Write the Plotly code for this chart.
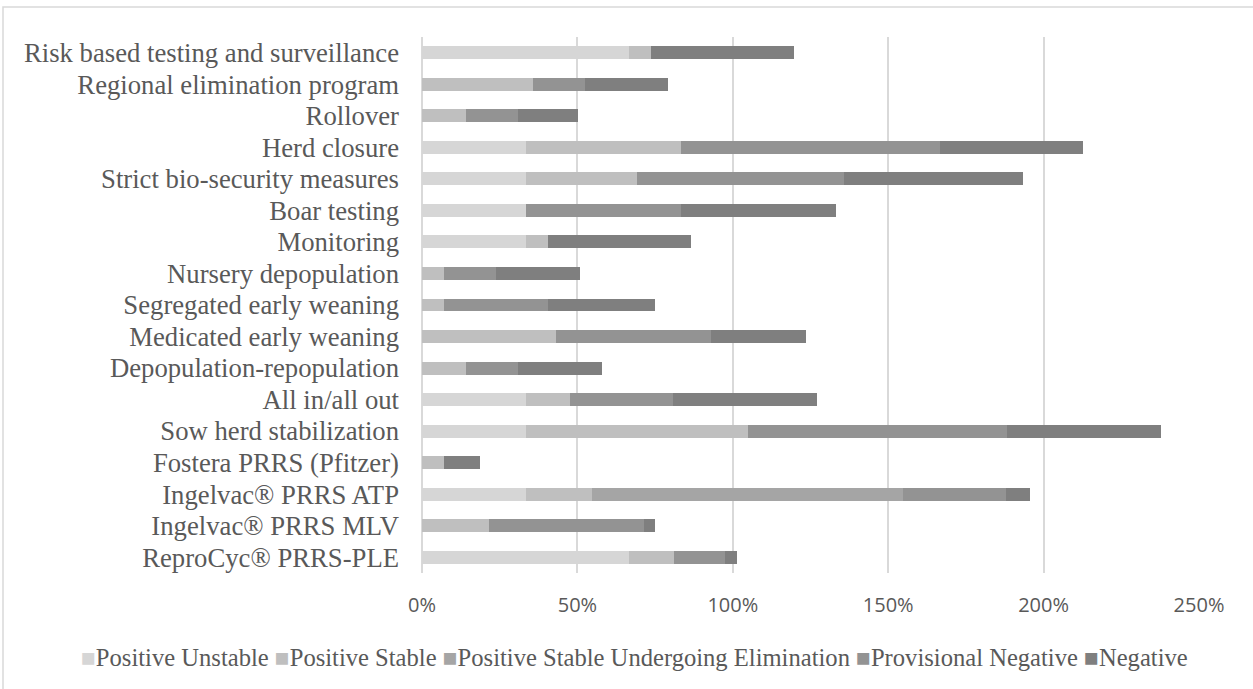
import plotly.graph_objects as go

# PRRS control strategies and herd status shares (%)
strategies = [
    "Risk based testing and surveillance",
    "Regional elimination program",
    "Rollover",
    "Herd closure",
    "Strict bio-security measures",
    "Boar testing",
    "Monitoring",
    "Nursery depopulation",
    "Segregated early weaning",
    "Medicated early weaning",
    "Depopulation-repopulation",
    "All in/all out",
    "Sow herd stabilization",
    "Fostera PRRS (Pfitzer)",
    "Ingelvac® PRRS ATP",
    "Ingelvac® PRRS MLV",
    "ReproCyc® PRRS-PLE",
]

positive_unstable = [66.7, 0, 0, 33.3, 33.3, 33.3, 33.3, 0, 0, 0, 0, 33.3, 33.3, 0, 33.3, 0, 66.7]
positive_stable = [7.1, 35.7, 14.3, 50.0, 35.8, 0, 7.2, 7.2, 7.2, 43.0, 14.3, 14.3, 71.6, 7.2, 21.4, 21.4, 14.4]
positive_stable_elim = [0, 0, 0, 0, 0, 0, 0, 0, 0, 0, 0, 0, 0, 0, 100.0, 0, 0]
provisional_negative = [0, 16.6, 16.7, 83.3, 66.6, 50.0, 0, 16.6, 33.3, 49.9, 16.7, 33.3, 83.2, 0, 33.3, 50.0, 16.5]
negative = [46.0, 27.0, 19.2, 46.0, 57.6, 49.8, 46.1, 26.9, 34.6, 30.7, 26.8, 46.1, 49.8, 11.5, 7.7, 3.7, 3.8]

series_names = [
    "Positive Unstable",
    "Positive Stable",
    "Positive Stable Undergoing Elimination",
    "Provisional Negative",
    "Negative",
]
series_values = [positive_unstable, positive_stable, positive_stable_elim,
                 provisional_negative, negative]
series_colors = ["#d6d6d6", "#bfbfbf", "#a5a5a5", "#939393", "#7f7f7f"]

x_ticks = [0, 50, 100, 150, 200, 250]

fig = go.Figure()
for name, vals, col in zip(series_names, series_values, series_colors):
    fig.add_trace(go.Bar(
        y=strategies, x=vals, name=name, orientation="h",
        marker=dict(color=col, line=dict(width=0)),
        showlegend=False,
    ))

W, H = 1253, 689
ml, mr, mt, mb = 422, 54, 37, 116
pw, ph = W - ml - mr, H - mt - mb


def px_to_paper(x, y):
    return (x - ml) / pw, (H - mb - y) / ph


# legend drawn as one line of coloured squares and names
legend_text = " ".join(
    f'<span style="color:{c}">■</span>{n}' for n, c in zip(series_names, series_colors)
)
lx, ly = px_to_paper(634, 657)

# outer chart frame
bx0, by0 = px_to_paper(3, 700)
bx1, by1 = px_to_paper(1262, 7)

fig.update_layout(
    width=W, height=H,
    margin=dict(l=ml, r=mr, t=mt, b=mb),
    paper_bgcolor="white", plot_bgcolor="white",
    barmode="stack", bargap=0.59,
    xaxis=dict(
        range=[0, 250], tickvals=x_ticks,
        ticktext=[f"{v}%" for v in x_ticks],
        showgrid=True, gridcolor="#d9d9d9", gridwidth=1.5,
        zeroline=True, zerolinecolor="#d9d9d9", zerolinewidth=1.5,
        showline=False, ticks="",
        tickfont=dict(family="Open Sans", size=20, color="#595959"),
        ticklabelstandoff=18,
    ),
    yaxis=dict(
        autorange="reversed", showgrid=False, zeroline=False, showline=False,
        ticks="", tickmode="array", tickvals=strategies, ticktext=strategies,
        tickfont=dict(family="Liberation Serif", size=26.7, color="#595959"),
        ticklabelstandoff=22,
    ),
    annotations=[dict(
        x=lx, y=ly, xref="paper", yref="paper", xanchor="center", yanchor="middle",
        text=legend_text, showarrow=False,
        font=dict(family="Liberation Serif", size=24.6, color="#595959"),
    )],
    shapes=[dict(
        type="rect", xref="paper", yref="paper",
        x0=bx0, y0=by0, x1=bx1, y1=by1,
        line=dict(color="#d9d9d9", width=1.5), layer="below",
    )],
)

fig.write_html("out.html")
